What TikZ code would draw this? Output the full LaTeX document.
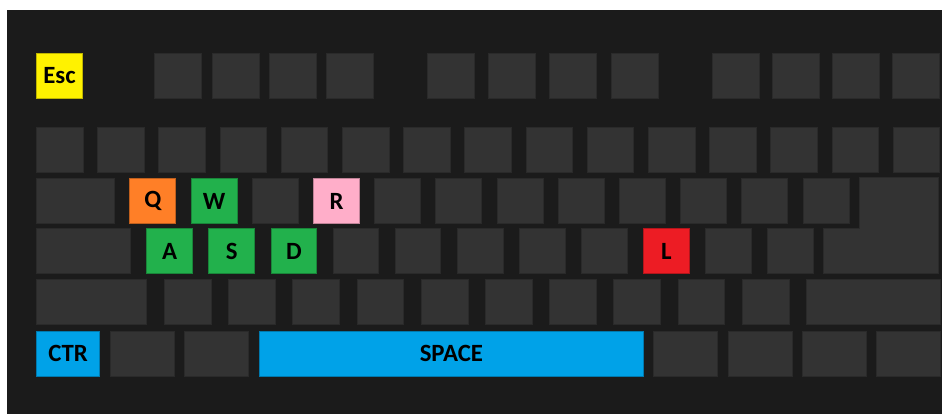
\documentclass[tikz,border=0pt]{standalone}
\usepackage{fontspec}
\setmainfont{Carlito}
\definecolor{boardbg}{HTML}{1B1B1B}
\definecolor{keygray}{HTML}{333333}
\definecolor{keyedge}{HTML}{2A2A2A}
\definecolor{escyellow}{HTML}{FFF200}
\definecolor{qorange}{HTML}{FF7F27}
\definecolor{wasdgreen}{HTML}{22B14C}
\definecolor{rpink}{HTML}{FFAEC9}
\definecolor{lred}{HTML}{ED1C24}
\definecolor{ctrblue}{HTML}{00A2E8}
\begin{document}
\begin{tikzpicture}[
    x=1pt, y=-1pt,
    key/.style={draw=keyedge, fill=keygray, line width=1pt, anchor=north west, inner sep=0pt,
                minimum width=46.5pt, minimum height=45pt, font=\bfseries\fontsize{24.8}{28}\selectfont},
    hot/.style={key, fill=#1, draw=#1!75!black}
]
\useasboundingbox (0,0) rectangle (942,414);
\fill[white] (0,0) rectangle (942,414);
\fill[boardbg] (7,10) rectangle (942,414);

% function row
\node[hot=escyellow, minimum width=46pt] (esc) at (36,53) {Esc};
\foreach \x [count=\i] in {154,211.5,269,326,427,488.3,549.3,610.7,711.7,772,832,892.3}
  \node[key, minimum width=47pt] (f\i) at (\x,53) {};

% number row
\foreach \i in {0,...,14}
  \node[key] (num\i) at ({36+61.2*\i},127) {};

% top letter row
\node[key, minimum width=77.5pt] (tab) at (36,178) {};
\node[hot=qorange, minimum width=46pt] (q) at (129.3,178) {Q};
\node[hot=wasdgreen, minimum width=46pt] (w) at (190.5,178) {W};
\node[hot=rpink, minimum width=46pt] (r) at (313.1,178) {R};
\foreach \i in {2,4,5,6,7,8,9,10,11}
  \node[key, minimum width=46pt] (top\i) at ({129.3+61.2*\i},178) {};
\draw[fill=keygray, draw=keyedge, line width=1pt]
  (859,178) -- (938.3,178) -- (938.3,273.7) -- (823.7,273.7) -- (823.7,228.3) -- (859,228.3) -- cycle;

% home row
\node[key, minimum width=93.7pt] (caps) at (36,228.3) {};
\node[hot=wasdgreen, minimum width=45.7pt] (a) at (146.3,228.3) {A};
\node[hot=wasdgreen, minimum width=45.7pt] (s) at (208.4,228.3) {S};
\node[hot=wasdgreen, minimum width=45.7pt] (d) at (270.5,228.3) {D};
\node[hot=lred, minimum width=45.7pt] (l) at (643.1,228.3) {L};
\foreach \i in {3,4,5,6,7,9,10}
  \node[key, minimum width=45.7pt] (home\i) at ({146.3+62.1*\i},228.3) {};

% shift row
\node[key, minimum width=110pt] (lshift) at (36,279.3) {};
\foreach \i in {0,...,9}
  \node[key, minimum width=46.7pt] (low\i) at ({164+64.2*\i},279.3) {};
\node[key, minimum width=134pt] (rshift) at (806,279.3) {};

% bottom row
\node[hot=ctrblue, minimum width=63.3pt] (ctr) at (36,330.7) {CTR};
\node[key, minimum width=64pt] (win) at (110,330.7) {};
\node[key, minimum width=63.7pt] (alt) at (184.3,330.7) {};
\node[hot=ctrblue, minimum width=383.7pt] (space) at (259,330.7) {SPACE};
\foreach \x [count=\i] in {653.3,727.7,802,876}
  \node[key, minimum width=64pt] (mod\i) at (\x,330.7) {};
\end{tikzpicture}
\end{document}
